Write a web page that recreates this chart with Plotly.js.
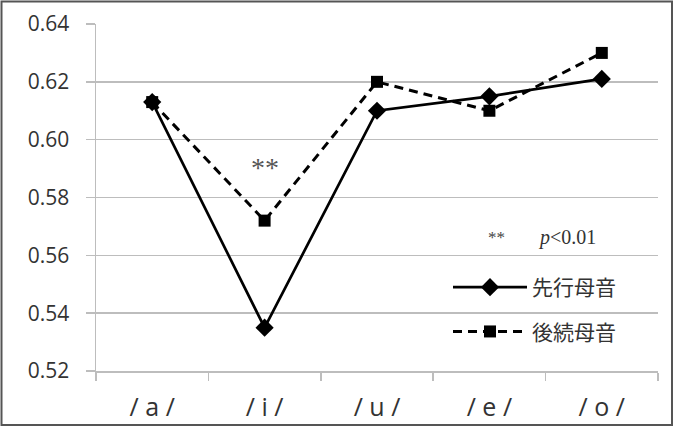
<!DOCTYPE html>
<html>
<head>
<meta charset="utf-8">
<script src="https://cdn.plot.ly/plotly-3.0.1.min.js"></script>
<style>
html,body{margin:0;padding:0;background:#fff;}
#chart{width:683px;height:429px;}
</style>
</head>
<body>
<div id="chart"></div>
<script>
var categories = ['/ a /', '/ i /', '/ u /', '/ e /', '/ o /'];
var seriesNames = ['先行母音', '後続母音'];
var precedingVowel = [0.613, 0.535, 0.610, 0.615, 0.621];
var followingVowel = [0.613, 0.572, 0.620, 0.610, 0.630];
var yTicks = [0.52, 0.54, 0.56, 0.58, 0.60, 0.62, 0.64];

var traces = [
  {
    x: categories, y: precedingVowel, name: seriesNames[0],
    type: 'scatter', mode: 'lines+markers', legendgroup: 'g1',
    line: {color: '#000', width: 2.7},
    marker: {symbol: 'diamond', size: 14, color: '#000'}
  },
  {
    x: categories, y: followingVowel, name: seriesNames[1],
    type: 'scatter', mode: 'lines+markers', legendgroup: 'g2',
    line: {color: '#000', width: 3, dash: '9px,6px'},
    marker: {symbol: 'square', size: 12, color: '#000'}
  }
];

var W = 683, H = 429, L = 96, R = 25, T = 24, B = 58;
var pw = W - L - R, ph = H - T - B;
function px(x){ return (x - L) / pw; }
function py(y){ return (H - B - y) / ph; }

var layout = {
  width: W, height: H,
  margin: {l: L, r: R, t: T, b: B},
  paper_bgcolor: '#fff', plot_bgcolor: '#fff',
  showlegend: true,
  legend: {
    x: px(448), y: py(267), xanchor: 'left', yanchor: 'top',
    bgcolor: 'rgba(0,0,0,0)', borderwidth: 0,
    traceorder: 'grouped', tracegroupgap: 14, itemwidth: 74,
    font: {family: 'Noto Sans CJK JP', size: 21, color: '#333'}
  },
  xaxis: {
    type: 'category', range: [-0.5, 4.5],
    showgrid: false, showline: true, linecolor: '#bdbdbd', linewidth: 1.5,
    ticks: 'outside', tickson: 'boundaries', ticklen: 8, tickcolor: '#bdbdbd', tickwidth: 1.5,
    ticklabelstandoff: 13,
    tickfont: {family: 'Open Sans', size: 25, color: '#333'}
  },
  yaxis: {
    range: [0.52, 0.64], tickvals: yTicks, tickformat: '.2f',
    showgrid: true, gridcolor: '#bdbdbd', gridwidth: 1.5,
    showline: true, linecolor: '#bdbdbd', linewidth: 1.5,
    ticks: 'outside', ticklen: 9, tickcolor: '#bdbdbd', tickwidth: 1.5,
    ticklabelstandoff: 12, zeroline: false,
    tickfont: {family: 'Open Sans', size: 21, color: '#333'}
  },
  annotations: [
    {x: categories[1], y: 0.5905, xref: 'x', yref: 'y', text: '**', showarrow: false,
     font: {family: 'Liberation Serif', size: 28, color: '#555'}},
    {x: px(507), y: py(238), xref: 'paper', yref: 'paper', text: '**', showarrow: false,
     font: {family: 'Liberation Serif', size: 17, color: '#444'}},
    {x: px(536), y: py(237), xref: 'paper', yref: 'paper', xanchor: 'left', text: '<i>p</i>&lt;0.01', showarrow: false,
     font: {family: 'Liberation Serif', size: 20, color: '#333'}}
  ],
  shapes: [
    {type: 'rect', xref: 'paper', yref: 'paper',
     x0: px(1.5), x1: px(672), y0: py(425), y1: py(1.5),
     line: {color: '#555', width: 2}, fillcolor: 'rgba(0,0,0,0)'}
  ]
};

Plotly.newPlot('chart', traces, layout, {staticPlot: true, displayModeBar: false});
</script>
</body>
</html>
